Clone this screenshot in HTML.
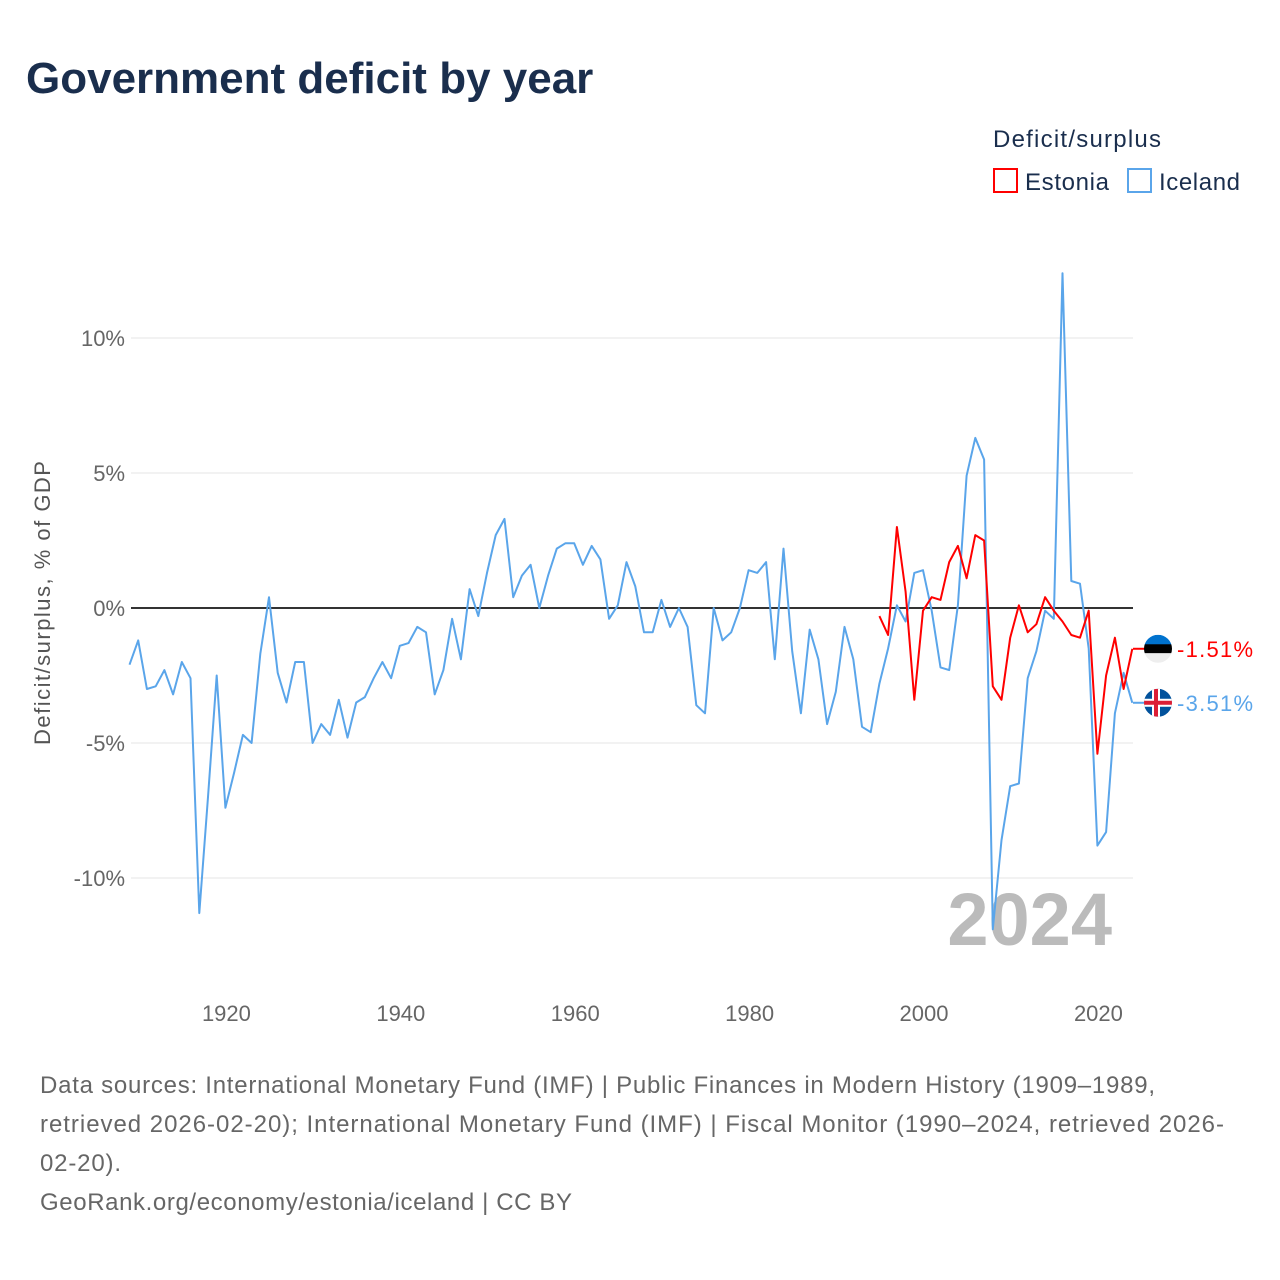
<!DOCTYPE html>
<html><head><meta charset="utf-8">
<style>
body{margin:0;background:#fff;font-family:"Liberation Sans",sans-serif;}
#wrap{position:relative;width:1280px;height:1280px;overflow:hidden;}
</style></head>
<body>
<div id="wrap">
<svg id="chart" width="1280" height="1280" xmlns="http://www.w3.org/2000/svg">
<text x="26" y="93" font-size="44" font-weight="bold" fill="#1a2e4d">Government deficit by year</text>
<text x="993" y="147" font-size="24" fill="#1a2e4d" textLength="168">Deficit/surplus</text>
<g><rect x="994" y="169" width="23" height="23" fill="none" stroke="#ff0000" stroke-width="2"/><text x="1025" y="190" font-size="24" fill="#1a2e4d" textLength="84">Estonia</text></g>
<g><rect x="1128" y="169" width="23" height="23" fill="none" stroke="#5aa5ea" stroke-width="2"/><text x="1159" y="190" font-size="24" fill="#1a2e4d" textLength="81">Iceland</text></g>
<text transform="translate(50,603) rotate(-90)" text-anchor="middle" font-size="22" fill="#555" textLength="284">Deficit/surplus, % of GDP</text>
<g id="grid"></g>
<text x="1112" y="945" text-anchor="end" font-size="74" font-weight="bold" fill="#bbb">2024</text>
<g id="series"></g>
<text x="40" y="1093" font-size="24" fill="#666" textLength="1115">Data sources: International Monetary Fund (IMF) | Public Finances in Modern History (1909–1989,</text>
<text x="40" y="1132" font-size="24" fill="#666" textLength="1184">retrieved 2026-02-20); International Monetary Fund (IMF) | Fiscal Monitor (1990–2024, retrieved 2026-</text>
<text x="40" y="1171" font-size="24" fill="#666" textLength="81">02-20).</text>
<text x="40" y="1210" font-size="24" fill="#666" textLength="532">GeoRank.org/economy/estonia/iceland | CC BY</text>
</svg>
</div>
<script>
const yTicks=[10,5,0,-5,-10];
const xTicks=[1920,1940,1960,1980,2000,2020];
const icelandStart=1909;
const icelandValues=[-2.1,-1.2,-3.0,-2.9,-2.3,-3.2,-2.0,-2.6,-11.3,-7.0,-2.5,-7.4,-6.1,-4.7,-5.0,-1.7,0.4,-2.4,-3.5,-2.0,-2.0,-5.0,-4.3,-4.7,-3.4,-4.8,-3.5,-3.3,-2.6,-2.0,-2.6,-1.4,-1.3,-0.7,-0.9,-3.2,-2.3,-0.4,-1.9,0.7,-0.3,1.3,2.7,3.3,0.4,1.2,1.6,0,1.2,2.2,2.4,2.4,1.6,2.3,1.8,-0.4,0.1,1.7,0.8,-0.9,-0.9,0.3,-0.7,0.0,-0.7,-3.6,-3.9,0,-1.2,-0.9,0,1.4,1.3,1.7,-1.9,2.2,-1.6,-3.9,-0.8,-1.9,-4.3,-3.1,-0.7,-1.9,-4.4,-4.6,-2.8,-1.5,0.1,-0.5,1.3,1.4,-0.1,-2.2,-2.3,0.1,4.9,6.3,5.5,-11.9,-8.6,-6.6,-6.5,-2.6,-1.6,-0.1,-0.4,12.4,1.0,0.9,-1.5,-8.8,-8.3,-3.9,-2.4,-3.51];
const estoniaStart=1995;
const estoniaValues=[-0.3,-1.0,3.0,0.6,-3.4,-0.1,0.4,0.3,1.7,2.3,1.1,2.7,2.5,-2.9,-3.4,-1.1,0.1,-0.9,-0.6,0.4,-0.1,-0.5,-1.0,-1.1,-0.1,-5.4,-2.5,-1.1,-3.0,-1.51];
const NS="http://www.w3.org/2000/svg";
const X=y=>129.5+(y-1909)*(1099-227)/100;
const Y=v=>608-v*27;
const grid=document.getElementById('grid');
function mk(tag,attrs,parent){const e=document.createElementNS(NS,tag);for(const k in attrs)e.setAttribute(k,attrs[k]);parent.appendChild(e);return e;}
yTicks.forEach(t=>{
  const l=mk('line',{x1:131,x2:1133,y1:Y(t),y2:Y(t),stroke:t===0?'#333':'#e6e6e6','stroke-width':t===0?2:1},grid);
  
  
  const tx=mk('text',{x:125,y:Y(t)+8,'text-anchor':'end','font-size':22,fill:'#666'},grid);
  tx.textContent=t+'%';
  
  
});
xTicks.forEach(t=>{
  const tx=mk('text',{x:X(t)+1,y:1021,'text-anchor':'middle','font-size':22,fill:'#666'},grid);
  tx.textContent=t;
  
  
});
const ser=document.getElementById('series');
function line(start,vals,color,name){
  const pts=vals.map((v,i)=>X(start+i).toFixed(1)+','+Y(v).toFixed(1)).join(' ');
  const p=mk('polyline',{points:pts,fill:'none',stroke:color,'stroke-width':2,'stroke-linejoin':'round'},ser);
  
  
}
line(icelandStart,icelandValues,'#5aa5ea','iceland-line');
line(estoniaStart,estoniaValues,'#ff0000','estonia-line');
function endLabel(vals,color,name,flag){
  const v=vals[vals.length-1];const y=Y(v);
  const c=mk('line',{x1:1133,x2:1145,y1:y,y2:y,stroke:color,'stroke-width':2},ser);
  
  
  const g=mk('g',{},ser);
  
  
  flag(g,1158,y);
  const t=mk('text',{x:1177,y:y+8,'font-size':22,fill:color,textLength:76},ser);
  t.textContent=v.toFixed(2)+'%';
  
  
}
endLabel(estoniaValues,'#ff0000','estonia',(g,cx,cy)=>{
  const cp=mk('clipPath',{id:'ce'},g);mk('circle',{cx,cy,r:14},cp);
  const gg=mk('g',{'clip-path':'url(#ce)'},g);
  mk('rect',{x:cx-14,y:cy-14,width:28,height:10,fill:'#0072ce'},gg);
  mk('rect',{x:cx-14,y:cy-4.5,width:28,height:9,fill:'#000'},gg);
  mk('rect',{x:cx-14,y:cy+4.5,width:28,height:10,fill:'#eee'},gg);
});
endLabel(icelandValues,'#5aa5ea','iceland',(g,cx,cy)=>{
  const cp=mk('clipPath',{id:'ci'},g);mk('circle',{cx,cy,r:14},cp);
  const gg=mk('g',{'clip-path':'url(#ci)'},g);
  mk('rect',{x:cx-14,y:cy-14,width:28,height:28,fill:'#02529c'},gg);
  mk('rect',{x:cx-14,y:cy-4,width:28,height:8,fill:'#fff'},gg);
  mk('rect',{x:cx-6,y:cy-14,width:8,height:28,fill:'#fff'},gg);
  mk('rect',{x:cx-14,y:cy-2,width:28,height:4,fill:'#dc1e35'},gg);
  mk('rect',{x:cx-4,y:cy-14,width:4,height:28,fill:'#dc1e35'},gg);
});
</script>
</body></html>
